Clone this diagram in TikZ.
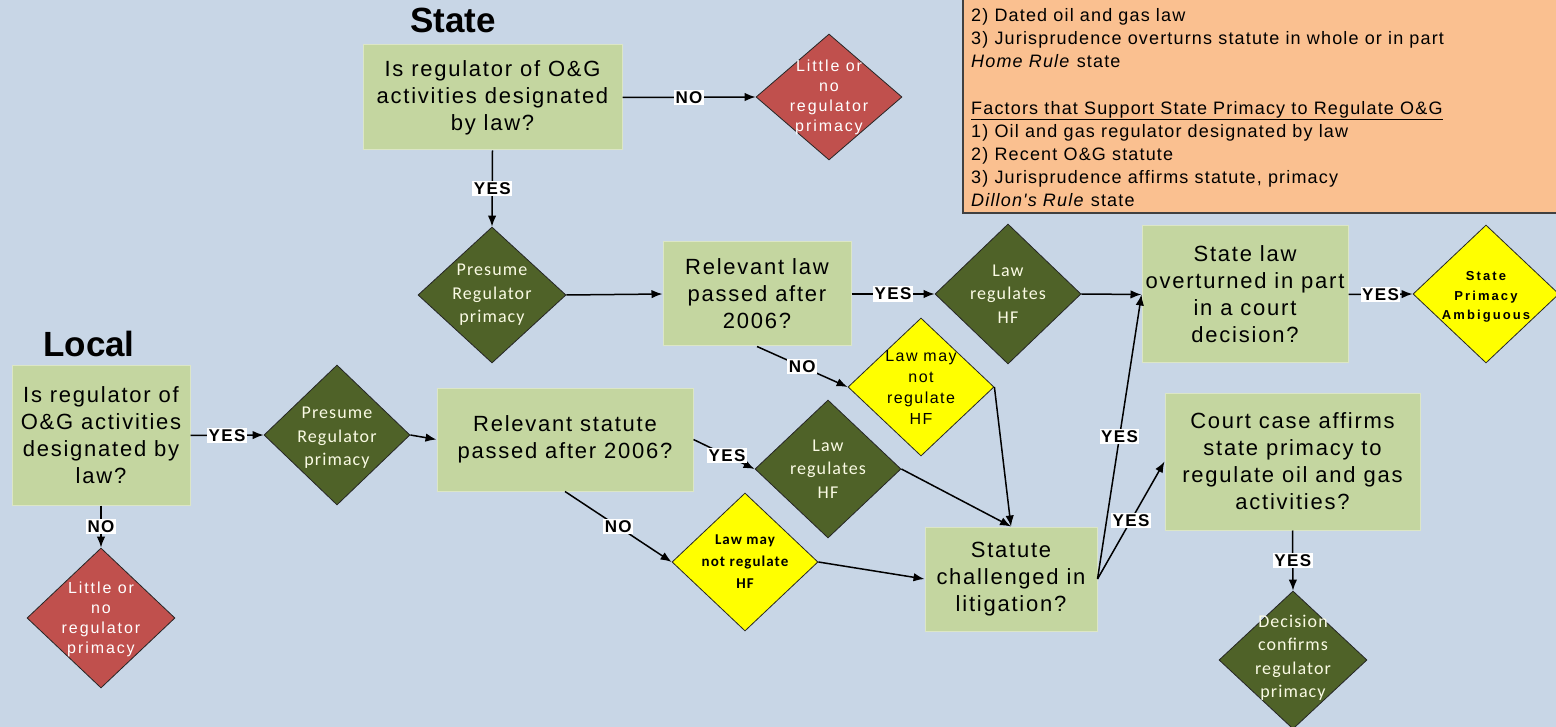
\documentclass[tikz,border=0pt]{standalone}
\usepackage{fontspec}
\setmainfont{Liberation Sans}
\newfontfamily\boxf[LetterSpace=8]{Liberation Sans}
\newfontfamily\legf[LetterSpace=6.5]{Liberation Sans}
\newfontfamily\redf[LetterSpace=12]{Liberation Sans}
\newfontfamily\yelf[LetterSpace=9]{Liberation Sans}
\newfontfamily\ambf[LetterSpace=16]{Liberation Sans}
\newfontfamily\labf[LetterSpace=8]{Liberation Sans}
\newfontfamily\calf[LetterSpace=6]{Carlito}
\newfontfamily\calbf[LetterSpace=7]{Carlito}
\usetikzlibrary{shapes.geometric,arrows.meta}
\definecolor{bg}{RGB}{200,214,230}
\definecolor{gboxc}{RGB}{196,214,160}
\definecolor{dgreen}{RGB}{79,98,40}
\definecolor{redd}{RGB}{192,80,77}
\definecolor{yel}{RGB}{255,255,0}
\definecolor{orng}{RGB}{250,192,144}
\definecolor{cream}{RGB}{250,250,228}
\begin{document}
\begin{tikzpicture}[x=1pt,y=-1pt,
  gbox/.style={rectangle, fill=gboxc, draw=gboxc!60!white, line width=1pt, align=center, inner sep=2pt,
    font=\boxf\fontsize{22}{27}\selectfont},
  dia/.style={diamond, draw=black!85, line width=0.8pt, inner sep=0pt, minimum width=146pt, minimum height=138pt},
  gdia/.style={dia, fill=dgreen},
  rdia/.style={dia, fill=redd},
  ydia/.style={dia, fill=yel},
  gtxt/.style={align=center, inner sep=0pt, text=cream, font=\calf\fontsize{18}{23.5}\selectfont},
  rtxt/.style={align=center, inner sep=0pt, text=white, font=\redf\fontsize{16}{20}\selectfont},
  ytxt/.style={align=center, inner sep=0pt, text=black, font=\yelf\fontsize{16}{21}\selectfont},
  arr/.style={draw=black, line width=1.5pt, -{Latex[length=11pt,width=8.5pt]}},
  lbl/.style={fill=white, inner sep=1.5pt, text=black, font=\labf\bfseries\fontsize{17}{18}\selectfont},
  title/.style={inner sep=0pt, font=\bfseries\fontsize{35}{40}\selectfont}
]
\useasboundingbox (0,0) rectangle (1556,727);
\fill[bg] (0,0) rectangle (1556,727);

% legend box
\node[rectangle, fill=orng, draw=black!75, line width=2pt, minimum width=620pt, minimum height=226pt, inner sep=0pt] (legend) at (1273,100) {};
\node[anchor=north west, align=left, inner sep=0pt, font=\legf\fontsize{18}{23.2}\selectfont] (legtext) at (971,8)
{2) Dated oil and gas law\\
3) Jurisprudence overturns statute in whole or in part\\
\textit{Home Rule} state\\[23.2pt]
\underline{Factors that Support State Primacy to Regulate O\&G}\\
1) Oil and gas regulator designated by law\\
2) Recent O\&G statute\\
3) Jurisprudence affirms statute, primacy\\
\textit{Dillon's Rule} state};

% titles
\node[title] (tstate) at (453,20) {State};
\node[title] (tlocal) at (89,344) {Local};

% state flow
\node[gbox, minimum width=259pt, minimum height=105pt] (s1) at (492.5,97.5) {Is regulator of O\&G\\activities designated\\by law?};
\node[rdia, minimum height=126pt] (red1) at (829,97) {};
\node[rtxt] (red1t) at (829,97) {Little or\\no\\regulator\\primacy};
\node[gdia, minimum width=148pt, minimum height=136pt] (d1) at (492,295) {};
\node[gtxt] (d1t) at (492,295) {Presume\\Regulator\\primacy};
\node[gbox, minimum width=188pt, minimum height=104pt] (b1) at (757,294) {Relevant law\\passed after\\2006?};
\node[gdia, minimum height=140pt] (gd1) at (1008,294) {};
\node[gtxt] (gd1t) at (1008,294) {Law\\regulates\\HF};
\node[gbox, minimum width=206pt, minimum height=137pt] (sl) at (1245,294.5) {State law\\overturned in part\\in a court\\decision?};
\node[ydia] (amb) at (1486,294) {};
\node[align=center, inner sep=0pt, font=\ambf\bfseries\fontsize{13}{19.5}\selectfont] (ambt) at (1486,297) {State\\Primacy\\Ambiguous};
\node[ydia] (yd1) at (921,387) {};
\node[ytxt] (yd1t) at (921,387) {Law may\\not\\regulate\\HF};

% local flow
\node[gbox, minimum width=178pt, minimum height=139pt] (l1) at (101,435.5) {Is regulator of\\O\&G activities\\designated by\\law?};
\node[rdia, minimum width=148pt, minimum height=140pt] (red2) at (101,618) {};
\node[rtxt] (red2t) at (101,619) {Little or\\no\\regulator\\primacy};
\node[gdia, minimum height=140pt] (ld) at (337,435) {};
\node[gtxt] (ldt) at (337,438) {Presume\\Regulator\\primacy};
\node[gbox, minimum width=256pt, minimum height=103pt] (b3) at (565,439.5) {Relevant statute\\passed after 2006?};
\node[gdia] (gd2) at (828,469) {};
\node[gtxt] (gd2t) at (828,469) {Law\\regulates\\HF};
\node[ydia] (yd2) at (745,562) {};
\node[ytxt, font=\calbf\bfseries\fontsize{15}{22}\selectfont] (yd2t) at (745,562) {Law may\\not regulate\\HF};
\node[gbox, minimum width=172pt, minimum height=104pt] (stat) at (1011,579) {Statute\\challenged in\\litigation?};
\node[gbox, minimum width=255pt, minimum height=137pt] (court) at (1292.5,461.5) {Court case affirms\\state primacy to\\regulate oil and gas\\activities?};
\node[gdia, minimum width=148pt] (dec) at (1293,660) {};
\node[gtxt] (dect) at (1293,658) {Decision\\confirms\\regulator\\primacy};

% connectors state
\draw[arr] (s1.east) -- node[lbl] (lno1) {NO} (red1.west);
\draw[arr] (s1.south) -- node[lbl] (lyes1) {YES} (d1.north);
\draw[arr] (d1.east) -- (b1.west);
\draw[arr] (b1.east) -- node[lbl] (lyes2) {YES} (gd1.west);
\draw[arr] (gd1.east) -- (sl.west);
\draw[arr] (sl.east) -- node[lbl] (lyes3) {YES} (amb.west);
\draw[arr] (b1.south) -- node[lbl] (lno2) {NO} (yd1.west);
\draw[arr] (yd1.east) -- (stat.north);

% connectors local
\draw[arr] (l1.east) -- node[lbl] (lyes4) {YES} (ld.west);
\draw[arr] (l1.south) -- node[lbl] (lno3) {NO} (red2.north);
\draw[arr] (ld.east) -- (b3.west);
\draw[arr] (b3.east) -- node[lbl, pos=0.55] (lyes5) {YES} (gd2.west);
\draw[arr] (b3.south) -- node[lbl] (lno4) {NO} (yd2.west);
\draw[arr] (gd2.east) -- (stat.north);
\draw[arr] (yd2.east) -- (stat.west);
\draw[arr] (stat.east) -- node[lbl] (lyes6) {YES} (sl.west);
\draw[arr] (stat.east) -- node[lbl] (lyes7) {YES} (court.west);
\draw[arr] (court.south) -- node[lbl] (lyes8) {YES} (dec.north);
\end{tikzpicture}
\end{document}
